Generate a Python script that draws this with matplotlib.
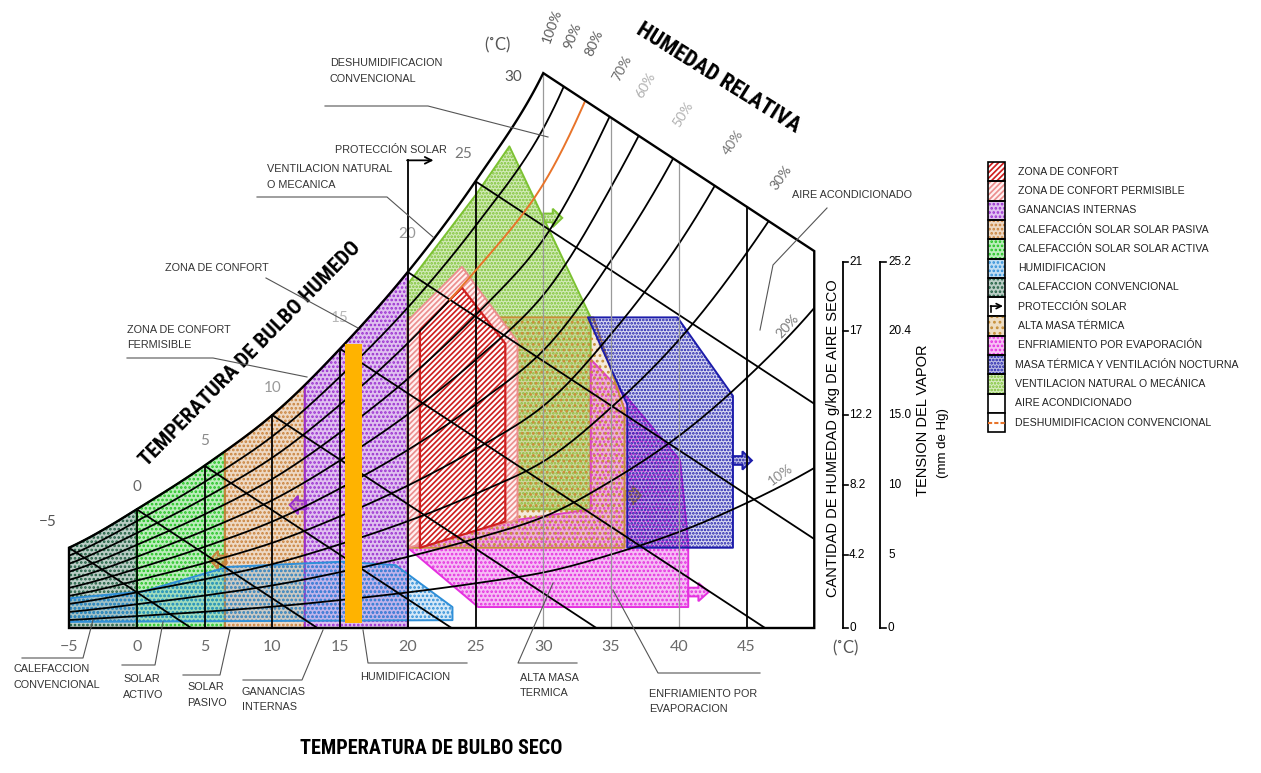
import numpy as np
import matplotlib
matplotlib.use("Agg")
import matplotlib.pyplot as plt
from matplotlib.patches import Polygon, Rectangle, FancyArrow
from matplotlib.transforms import Affine2D, blended_transform_factory
from matplotlib.colors import to_rgba

W, H = 1261, 773

# ---------------- chart grid (dry bulb in °C, humidity in g/kg) ----------------
sat_temp = [-5, 0, 5, 10, 15, 20, 25, 30, 35, 40, 45, 50]
sat_hum = [4.6, 6.8, 9.3, 12.2, 16.0, 20.4, 25.6, 31.8, 42.1, 55.0, 71.6, 91.7]
rh_levels = [90, 80, 70, 60, 50, 40, 30, 20, 10]
rh_labels = ["100%", "90%", "80%", "70%", "60%", "50%", "40%", "30%", "20%", "10%"]
wet_bulb_temps = [-5, 0, 5, 10, 15, 20, 25]
wet_bulb_labels = ["\u22125", "0", "5", "10", "15", "20", "25", "30"]
wet_bulb_top = 30
wet_bulb_slope = -0.51
dry_bulb_temps = [-5, 0, 5, 10, 15, 20, 25, 30, 35, 40, 45]
dry_bulb_labels = ["\u22125", "0", "5", "10", "15", "20", "25", "30", "35", "40", "45"]
t_max = 50
humidity_ticks = [0, 4.2, 8.2, 12.2, 17, 21]
humidity_labels = ["0", "4.2", "8.2", "12.2", "17", "21"]
vapor_labels = ["0", "5", "10", "15.0", "20.4", "25.2"]

# ---------------- bioclimatic zones ----------------
calefaccion_conv = (-5.0, 0.0)      # dry-bulb span, filled up to saturation
solar_activo = (0.0, 6.5)
solar_pasivo = (6.5, 12.4)
ganancias_internas = (12.4, 20.0)
humidificacion = [(-5.0, 0.35), (-5.0, 1.7), (0.5, 2.1), (6.7, 3.5), (15.2, 3.8),
                  (19.1, 3.6), (23.3, 1.2), (23.3, 0.45)]
ventilacion = [(20.0, 17.8), (20.0, 19.7), (25.1, 24.9), (27.5, 27.6), (33.5, 17.8),
               (33.5, 6.8), (20.0, 6.8)]
alta_masa = [(20.0, 4.6), (20.0, 17.8), (33.7, 17.8), (36.0, 12.5), (36.0, 4.6)]
masa_nocturna = [(36.2, 4.6), (36.2, 12.8), (33.3, 17.8), (39.9, 17.8), (44.0, 13.3),
                 (44.0, 4.6)]
enfriamiento = [(20.0, 4.6), (25.2, 1.2), (40.7, 1.2), (40.7, 4.9), (40.1, 9.6),
                (36.2, 13.2), (33.5, 15.4), (33.5, 6.8), (28.1, 6.2)]
confort_permisible = [(20.0, 4.6), (20.0, 17.6), (24.0, 20.7), (28.1, 16.4),
                      (28.1, 6.2), (25.1, 5.6)]
confort = [(20.9, 4.6), (20.9, 17.1), (24.0, 19.5), (27.2, 16.3), (27.2, 6.1),
           (25.1, 5.6)]
proteccion_temp = 20.0
proteccion_top = 26.8
proteccion_end = 21.9
deshumid_rh = 80
deshumid_from = 23.0
bar_temp = [16.0]
bar_bottom = [0.3]
bar_top = [16.3]

legend_rows = ["ZONA DE CONFORT", "ZONA DE CONFORT PERMISIBLE", "GANANCIAS INTERNAS",
               "CALEFACCIÓN SOLAR SOLAR PASIVA", "CALEFACCIÓN SOLAR SOLAR ACTIVA",
               "HUMIDIFICACION", "CALEFACCION CONVENCIONAL", "PROTECCIÓN SOLAR",
               "ALTA MASA TÉRMICA", "ENFRIAMIENTO POR EVAPORACIÓN",
               "MASA TÉRMICA Y VENTILACIÓN NOCTURNA", "VENTILACION NATURAL O MECÁNICA",
               "AIRE ACONDICIONADO", "DESHUMIDIFICACION CONVENCIONAL"]

SANS = ['Liberation Sans', 'DejaVu Sans']
BOLD = ['Roboto Condensed', 'Liberation Sans Narrow', 'Liberation Sans', 'DejaVu Sans']
THIN = ['Lato', 'DejaVu Sans']

C_CONFORT = '#cf2020'
C_PERMIS = '#ec8f8f'
C_GANANCIAS = '#9a2fd0'
C_PASIVA = '#c9823c'
C_ACTIVA = '#22c422'
C_HUMID = '#2f8fd8'
C_CALEF = '#1d5c3f'
C_MASA = '#c8903a'
C_EVAP = '#e530e0'
C_NOCT = '#1c1caa'
C_VENT = '#7cc232'
C_DESH = '#e8742a'
C_BAR = '#ffb300'

plt.rcParams['hatch.linewidth'] = 1.25

fig = plt.figure(figsize=(W / 100, H / 100), dpi=100)
ax = fig.add_axes([0, 0, 1, 1])
ax.set_axis_off()

# pixel calibration of the frame: -5 °C at x=69, 0 g/kg at y=628
X0, PX_C = 69.0, 13.55
Y0, PX_G = 628.0, 17.45
ax.set_xlim(-5 - X0 / PX_C, -5 + (W - X0) / PX_C)
ax.set_ylim(-(H - Y0) / PX_G, Y0 / PX_G)
ax.set_autoscale_on(False)

PIX = Affine2D().scale(1.0 / W, -1.0 / H).translate(0, 1) + fig.transFigure
XD_YP = blended_transform_factory(ax.transData, PIX)
XP_YD = blended_transform_factory(PIX, ax.transData)


def smooth(xk, yk, x):
    xk = np.asarray(xk, float)
    yk = np.asarray(yk, float)
    x = np.asarray(x, float)
    m = np.gradient(yk, xk)
    i = np.clip(np.searchsorted(xk, x) - 1, 0, len(xk) - 2)
    h = xk[i + 1] - xk[i]
    t = (x - xk[i]) / h
    h00 = 2 * t ** 3 - 3 * t ** 2 + 1
    h10 = t ** 3 - 2 * t ** 2 + t
    h01 = -2 * t ** 3 + 3 * t ** 2
    h11 = t ** 3 - t ** 2
    return h00 * yk[i] + h10 * h * m[i] + h01 * yk[i + 1] + h11 * h * m[i + 1]


def saturation(t):
    return np.exp(smooth(sat_temp, np.log(sat_hum), t))


def top_line(t):
    return saturation(wet_bulb_top) + wet_bulb_slope * (np.asarray(t, float) - wet_bulb_top)


def under_curve(span):
    t0, t1 = span
    t = np.linspace(t0, t1, 60)
    return np.vstack([[(t0, 0.0)], np.column_stack([t, saturation(t)]), [(t1, 0.0)]])


FACE_A = 0.3
SPECK = '....'
SPECK2 = '.....'
SPECK3 = '...'


def zone(verts, color, hatch, z, alpha=FACE_A, face=None, lw=1.4):
    fc = face if face is not None else to_rgba(color, alpha)
    p = Polygon(verts, closed=True, facecolor=fc, edgecolor=color, hatch=hatch,
                lw=lw, zorder=z, joinstyle='round')
    ax.add_patch(p)
    return p


def block_arrow(t, w, dt, color, hatch, z):
    a = FancyArrow(t, w, dt, 0, width=0.5, head_width=1.05, head_length=abs(dt) * 0.5,
                   length_includes_head=True, facecolor=to_rgba(color, FACE_A),
                   edgecolor=color, hatch=hatch, lw=1.4, zorder=z)
    ax.add_patch(a)


# ---- zones ----
zone(under_curve(calefaccion_conv), C_CALEF, SPECK, 2.0)
zone(under_curve(solar_activo), C_ACTIVA, SPECK, 2.0)
zone(under_curve(solar_pasivo), C_PASIVA, SPECK, 2.0)
block_arrow(6.6, 3.9, -1.2, C_PASIVA, SPECK, 2.0)
zone(under_curve(ganancias_internas), C_GANANCIAS, SPECK, 2.0)
block_arrow(12.5, 7.05, -1.2, C_GANANCIAS, SPECK, 2.0)
zone(ventilacion, C_VENT, SPECK2, 2.1, alpha=0.34)
block_arrow(30.0, 23.5, 1.4, C_VENT, SPECK2, 2.1)
zone(enfriamiento, C_EVAP, SPECK, 2.2, alpha=0.32)
block_arrow(40.7, 2.06, 1.5, C_EVAP, SPECK, 2.2)
zone(alta_masa, C_MASA, SPECK3, 2.3, alpha=0.18)
block_arrow(36.0, 7.6, 1.2, C_MASA, SPECK3, 2.3)
zone(masa_nocturna, C_NOCT, SPECK2, 2.4, alpha=0.16)
block_arrow(44.0, 9.6, 1.4, C_NOCT, SPECK2, 2.4)
zone(humidificacion, C_HUMID, SPECK, 2.5, alpha=0.2)
zone(confort_permisible, C_PERMIS, '//////', 3.0, face='#fff2f2')
zone(confort, C_CONFORT, '//////', 3.1, face='#ffffff', lw=1.6)

# ---- frame and grid ----
t_sat = np.linspace(-5, wet_bulb_top, 300)
outline = np.vstack([[(-5, 0.0), (t_max, 0.0), (t_max, float(top_line(t_max)))],
                     np.column_stack([t_sat[::-1], saturation(t_sat[::-1])])])
frame = Polygon(outline, closed=True, fill=False, edgecolor='black', lw=1.7,
                zorder=6, joinstyle='miter')
ax.add_patch(frame)

for tw in wet_bulb_temps:
    w0 = float(saturation(tw))
    ln, = ax.plot([tw, tw + w0 / -wet_bulb_slope], [w0, 0], color='black', lw=1.3,
                  zorder=4)
    ln.set_clip_path(frame)

t_all = np.linspace(-5, t_max, 500)
for rh in rh_levels:
    w = rh / 100 * saturation(t_all)
    if rh == deshumid_rh:
        lo = t_all <= deshumid_from
        ln, = ax.plot(t_all[lo], w[lo], color='black', lw=1.3, zorder=4)
        ln.set_clip_path(frame)
        ln, = ax.plot(t_all[~lo], w[~lo], color=C_DESH, lw=1.4, zorder=4.2)
        ln.set_clip_path(frame)
    else:
        ln, = ax.plot(t_all, w, color='black', lw=1.3, zorder=4)
        ln.set_clip_path(frame)

for t in dry_bulb_temps[1:]:
    top = float(min(saturation(t), top_line(t)))
    gray = t in (30, 35, 40)
    ax.plot([t, t], [0, top], color='#9a9a9a' if gray else 'black',
            lw=0.9 if gray else 1.3, zorder=4)

# protección solar: vertical stroke and arrow above the 20 °C line
ax.plot([proteccion_temp, proteccion_temp],
        [float(saturation(proteccion_temp)), proteccion_top], color='black', lw=1.3, zorder=5)
ax.annotate('', xy=(proteccion_end, proteccion_top), xytext=(proteccion_temp - 0.05, proteccion_top),
            arrowprops=dict(arrowstyle='->', lw=1.3, color='black', shrinkA=0, shrinkB=0,
                            mutation_scale=12), zorder=5)

ax.bar(bar_temp, np.subtract(bar_top, bar_bottom), bottom=bar_bottom, width=1.2,
       color=C_BAR, zorder=7)

# ---- scale labels ----
for t, s in zip(dry_bulb_temps, dry_bulb_labels):
    ax.text(t, 647, s, transform=XD_YP, ha='center', va='center', fontsize=11.5,
            color='#6a6a6a', family=THIN)
ax.text(845, 648, '(˚C)', transform=PIX, ha='center', va='center', fontsize=12,
        color='#555555', family=THIN)
ax.text(497, 45, '(˚C)', transform=PIX, ha='center', va='center', fontsize=12,
        color='#555555', family=THIN)

wb_label_px = [(48, 522), (137, 487), (205, 441), (273, 388), (340, 318), (407, 234),
               (463, 154), (513, 77)]
wb_label_col = ['#555555', '#666666', '#8a8a8a', '#999999', '#b8b8b8', '#999999',
                '#777777', '#555555']
for (x, y), s, c in zip(wb_label_px, wet_bulb_labels, wb_label_col):
    ax.text(x, y, s, transform=PIX, ha='center', va='center', fontsize=11,
            color=c, family=THIN)

rh_label_px = [(552, 26), (573, 36), (594, 43), (622, 68), (646, 85), (683, 114),
               (733, 142), (781, 178), (787, 326), (781, 475)]
rh_label_rot = [70, 68, 66, 62, 60, 58, 56, 54, 48, 36]
rh_label_col = ['#5a5a5a', '#5a5a5a', '#5a5a5a', '#6a6a6a', '#b0b0b0', '#b0b0b0',
                '#7a7a7a', '#6a6a6a', '#7a7a7a', '#8a8a8a']
for (x, y), s, r, c in zip(rh_label_px, rh_labels, rh_label_rot, rh_label_col):
    ax.text(x, y, s, transform=PIX, ha='center', va='center', fontsize=10,
            rotation=r, rotation_mode='anchor', color=c, family=THIN)

ax.text(718, 78, 'HUMEDAD RELATIVA', transform=PIX, ha='center', va='center',
        fontsize=16, rotation=-32, rotation_mode='anchor', fontweight='bold',
        family=BOLD, color='black')
ax.text(250, 354, 'TEMPERATURA DE BULBO HUMEDO', transform=PIX, ha='center', va='center',
        fontsize=15.3, rotation=45.5, rotation_mode='anchor', fontweight='bold',
        family=BOLD, color='black')
ax.text(431, 748, 'TEMPERATURA DE BULBO SECO', transform=PIX, ha='center', va='center',
        fontsize=14.6, fontweight='bold', family=BOLD, color='black')

# ---- right-hand humidity / vapour pressure scales ----
for xb in (843, 880):
    ax.plot([xb, xb], [humidity_ticks[0], humidity_ticks[-1]], transform=XP_YD,
            color='black', lw=1.3, zorder=5)
for v, s1, s2 in zip(humidity_ticks, humidity_labels, vapor_labels):
    ax.plot([843, 848], [v, v], transform=XP_YD, color='black', lw=1.2)
    ax.text(849, v, s1, transform=XP_YD, ha='left', va='center', fontsize=8.5,
            family=SANS, color='black')
    ax.text(888, v, s2, transform=XP_YD, ha='left', va='center', fontsize=8.5,
            family=SANS, color='black')
for v in (humidity_ticks[0], humidity_ticks[-1]):
    ax.plot([880, 886], [v, v], transform=XP_YD, color='black', lw=1.2)
ax.text(833, 438, 'CANTIDAD DE HUMEDAD g/kg DE AIRE SECO', transform=PIX, rotation=90,
        ha='center', va='center', fontsize=10.5, family=SANS, color='black')
ax.text(923, 420, 'TENSION DEL VAPOR', transform=PIX, rotation=90,
        ha='center', va='center', fontsize=10.5, family=SANS, color='black')
ax.text(943, 443, '(mm de Hg)', transform=PIX, rotation=90,
        ha='center', va='center', fontsize=9.5, family=SANS, color='black')

# ---- callouts ----
callouts = [
    (["DESHUMIDIFICACION", "CONVENCIONAL"], 330, 63, [(325, 106), (428, 106), (548, 137)]),
    (["PROTECCIÓN SOLAR"], 335, 150, None),
    (["VENTILACION NATURAL", "O MECANICA"], 267, 169, [(257, 197), (387, 197), (433, 237)]),
    (["ZONA DE CONFORT"], 165, 268, [(266, 278), (358, 328)]),
    (["ZONA DE CONFORT", "FERMISIBLE"], 127, 330, [(127, 358), (213, 358), (307, 377)]),
    (["CALEFACCION", "CONVENCIONAL"], 13, 669, [(22, 658), (83, 658), (93, 620)]),
    (["SOLAR", "ACTIVO"], 123, 679, [(122, 665), (155, 665), (163, 622)]),
    (["SOLAR", "PASIVO"], 187, 687, [(183, 675), (220, 675), (230, 630)]),
    (["GANANCIAS", "INTERNAS"], 242, 692, [(243, 680), (302, 680), (323, 630)]),
    (["HUMIDIFICACION"], 360, 677, [(363, 630), (368, 663), (467, 663)]),
    (["ALTA MASA", "TERMICA"], 520, 678, [(577, 663), (518, 663), (553, 583)]),
    (["ENFRIAMIENTO POR", "EVAPORACION"], 649, 694, [(760, 673), (658, 673), (613, 590)]),
    (["AIRE ACONDICIONADO"], 792, 195, [(827, 208), (773, 265), (760, 330)]),
]
for lines, x, y, leader in callouts:
    for k, s in enumerate(lines):
        ax.text(x, y + 15.5 * k, s, transform=PIX, ha='left', va='center', fontsize=7.8,
                family=SANS, color='#333333', zorder=8)
    if leader:
        xs, ys = zip(*leader)
        ax.plot(xs, ys, transform=PIX, color='#555555', lw=0.8, zorder=8)

# ---- legend ----
swatches = [
    (C_CONFORT, '//////', '#ffffff'), (C_PERMIS, '//////', '#fff2f2'),
    (C_GANANCIAS, SPECK, None), (C_PASIVA, SPECK, None), (C_ACTIVA, SPECK, None),
    (C_HUMID, SPECK, None), (C_CALEF, SPECK, None), ('arrow', None, None),
    (C_MASA, SPECK3, None), (C_EVAP, SPECK, None), (C_NOCT, SPECK2, None),
    (C_VENT, SPECK2, None), ('white', None, None), ('line', None, None),
]
row_h = 19.3
for i, (label, (col, hatch, face)) in enumerate(zip(legend_rows, swatches)):
    y = 162 + i * row_h
    if col in ('arrow', 'white', 'line'):
        r = Rectangle((988, y), 17, row_h, transform=PIX, facecolor='white',
                      edgecolor='black', lw=1.2, zorder=5)
        ax.add_patch(r)
        if col == 'arrow':
            ax.plot([991, 991], [y + 15, y + 9], transform=PIX, color='black', lw=1.2, zorder=6)
            ax.annotate('', xy=(1003, y + 9), xytext=(990.5, y + 9), xycoords=PIX,
                        textcoords=PIX, arrowprops=dict(arrowstyle='->', lw=1.2,
                        color='black', shrinkA=0, shrinkB=0, mutation_scale=9), zorder=6)
        if col == 'line':
            ax.plot([988, 1005], [y + row_h / 2, y + row_h / 2], transform=PIX,
                    color=C_DESH, lw=1.5, ls=(0, (2, 1)), zorder=6)
    else:
        fc = face if face is not None else to_rgba(col, FACE_A)
        r = Rectangle((988, y), 17, row_h, transform=PIX, facecolor=fc, edgecolor=col,
                      hatch=hatch, lw=0, zorder=5)
        ax.add_patch(r)
        ax.add_patch(Rectangle((988, y), 17, row_h, transform=PIX, fill=False,
                               edgecolor='black', lw=1.2, zorder=6))
    tx = 1018 if i < 10 else 1015
    ax.text(tx, y + row_h / 2, label, transform=PIX, ha='left', va='center',
            fontsize=7.6, family=SANS, color='#222222')

fig.savefig('out.png', dpi=100, facecolor='white')
